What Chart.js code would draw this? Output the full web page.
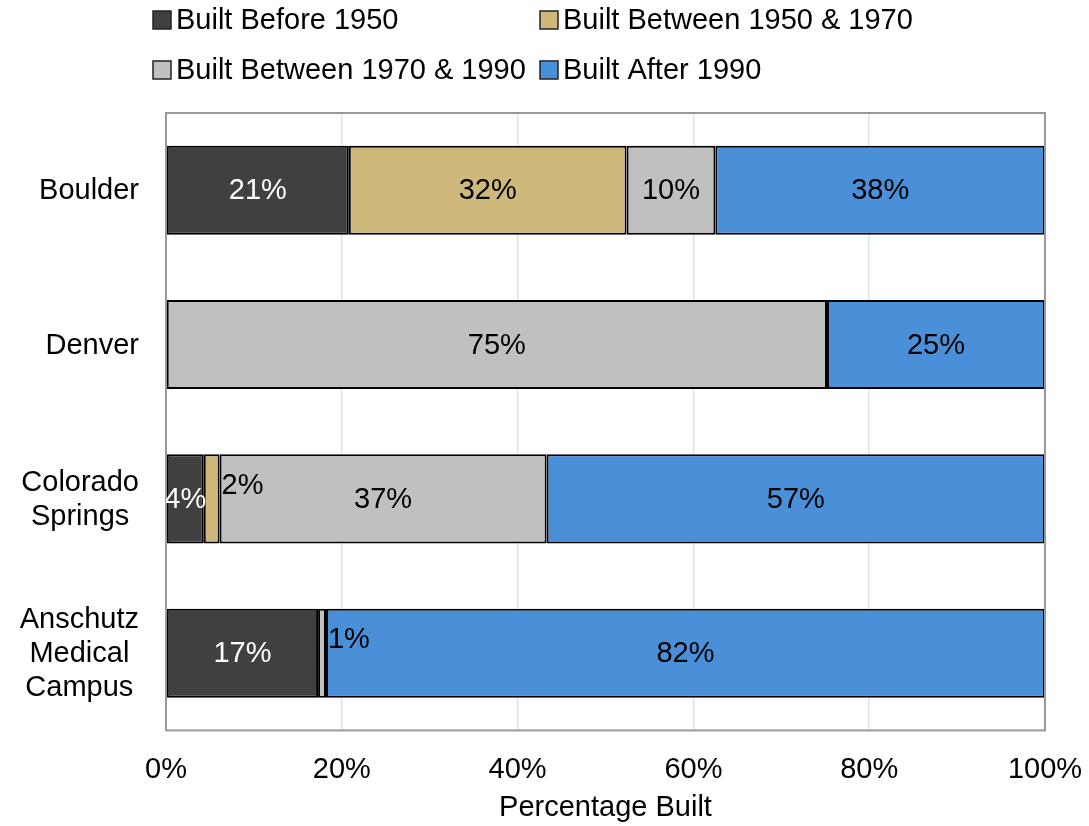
<!DOCTYPE html>
<html>
<head>
<meta charset="utf-8">
<script src="https://cdn.jsdelivr.net/npm/chart.js@4"></script>
<style>
  html, body { margin: 0; padding: 0; background: #fff; }
  #wrap { width: 1089px; height: 826px; position: relative; }
</style>
</head>
<body>
<div id="wrap"><canvas id="chart"></canvas></div>
<script>
// campus labels (multi-line)
const campuses = [['Boulder'], ['Denver'], ['Colorado', 'Springs'], ['Anschutz', 'Medical', 'Campus']];
const seriesNames = ['Built Before 1950', 'Built Between 1950 & 1970', 'Built Between 1970 & 1990', 'Built After 1990'];

// percent of buildings per era
const builtBefore1950 = [20.8, 0, 4.3, 17.3];
const built1950to1970 = [31.6, 0, 1.8, 0];
const built1970to1990 = [10.1, 75.2, 37.2, 0.9];
const builtAfter1990 = [37.5, 24.8, 56.7, 81.8];

const xTickValues = [0, 20, 40, 60, 80, 100];

const colors = ['#404040', '#cfb87c', '#c0c0c0', '#4a90d9'];
const labelColors = ['#fff', '#000', '#000', '#000'];
const FONT = "'Liberation Sans', Arial, Helvetica, sans-serif";
const FS = 29;

const seriesData = [builtBefore1950, built1950to1970, built1970to1990, builtAfter1990];

const datasets = seriesData.map((arr, i) => ({
    label: seriesNames[i],
    data: arr.map(v => v === 0 ? null : v),
    backgroundColor: colors[i],
    borderColor: '#000',
    borderWidth: 2,
    borderSkipped: false,
    barPercentage: 0.577,
    categoryPercentage: 1
}));

// legend laid out as a 2x2 grid like the original
const legendPlugin = {
    id: 'gridLegend',
    afterDraw(chart) {
        const ctx = chart.ctx;
        const cols = [153, 540];
        const rows = [20, 70];
        ctx.save();
        ctx.font = FS + 'px ' + FONT;
        ctx.textBaseline = 'middle';
        ctx.textAlign = 'left';
        chart.data.datasets.forEach((ds, i) => {
            const x = cols[i % 2], y = rows[Math.floor(i / 2)];
            ctx.fillStyle = ds.backgroundColor;
            ctx.fillRect(x, y - 9, 18, 18);
            ctx.strokeStyle = '#222';
            ctx.lineWidth = 1.5;
            ctx.strokeRect(x, y - 9, 18, 18);
            ctx.fillStyle = '#000';
            ctx.fillText(ds.label, x + 23, y + 1);
        });
        ctx.restore();
    }
};

// y labels: block right-aligned, lines centred inside the block
const yLabelPlugin = {
    id: 'yLabels',
    afterDraw(chart) {
        const ctx = chart.ctx;
        const y = chart.scales.y;
        const right = 139;
        const lh = 34;
        ctx.save();
        ctx.font = FS + 'px ' + FONT;
        ctx.fillStyle = '#000';
        ctx.textAlign = 'center';
        ctx.textBaseline = 'middle';
        campuses.forEach((lines, i) => {
            const w = Math.max(...lines.map(l => ctx.measureText(l).width));
            const cx = right - w / 2;
            const cy = y.getPixelForValue(i);
            lines.forEach((l, j) => {
                ctx.fillText(l, cx, cy + (j - (lines.length - 1) / 2) * lh + 1);
            });
        });
        ctx.restore();
    }
};

// plot frame + value labels
const barLabelPlugin = {
    id: 'barLabels',
    afterDatasetsDraw(chart) {
        const ctx = chart.ctx;
        const a = chart.chartArea;
        ctx.save();
        ctx.strokeStyle = '#999';
        ctx.lineWidth = 2;
        ctx.strokeRect(a.left, a.top, a.right - a.left, a.bottom - a.top);

        ctx.beginPath();
        ctx.rect(a.left, 0, a.right - a.left, chart.height);
        ctx.clip();
        ctx.font = FS + 'px ' + FONT;
        ctx.textBaseline = 'middle';
        chart.data.datasets.forEach((ds, di) => {
            const meta = chart.getDatasetMeta(di);
            meta.data.forEach((bar, i) => {
                const v = ds.data[i];
                if (v == null) return;
                const txt = Math.round(v) + '%';
                if (v < 3) {
                    // tiny slices: label pushed right and up
                    ctx.fillStyle = '#000';
                    ctx.textAlign = 'left';
                    ctx.fillText(txt, Math.max(bar.x, bar.base) + 2, bar.y - 13);
                } else {
                    ctx.fillStyle = labelColors[di];
                    ctx.textAlign = 'center';
                    ctx.fillText(txt, (bar.x + bar.base) / 2, bar.y + 1);
                }
            });
        });
        ctx.restore();
    }
};

new Chart(document.getElementById('chart'), {
    type: 'bar',
    data: {
        labels: campuses.map(c => c.join(' ')),
        datasets: datasets
    },
    options: {
        indexAxis: 'y',
        responsive: true,
        maintainAspectRatio: false,
        animation: false,
        layout: { padding: { top: 113, right: 44, left: 0, bottom: 1 } },
        plugins: {
            legend: { display: false },
            tooltip: { enabled: false }
        },
        scales: {
            x: {
                stacked: true,
                min: 0,
                max: 100,
                afterBuildTicks: s => { s.ticks = xTickValues.map(v => ({ value: v })); },
                ticks: {
                    callback: v => v + '%',
                    color: '#000',
                    font: { family: FONT, size: FS },
                    padding: 2,
                    maxRotation: 0
                },
                grid: { color: '#dbe4ef', lineWidth: 1.5, drawTicks: true, tickLength: 20, tickColor: 'rgba(0,0,0,0)' },
                border: { display: false },
                title: {
                    display: true,
                    text: 'Percentage Built',
                    color: '#000',
                    font: { family: FONT, size: FS },
                    padding: { top: 1, bottom: 0 }
                }
            },
            y: {
                stacked: true,
                ticks: { display: false },
                grid: { display: false },
                border: { display: false },
                afterFit: s => { s.width = 166; }
            }
        }
    },
    plugins: [legendPlugin, yLabelPlugin, barLabelPlugin]
});
</script>
</body>
</html>
